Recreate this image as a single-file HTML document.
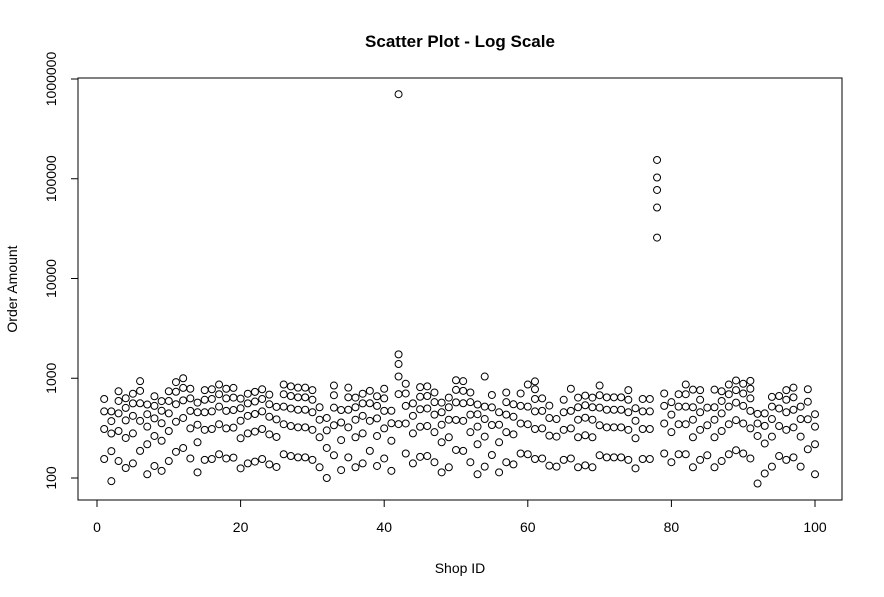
<!DOCTYPE html>
<html><head><meta charset="utf-8"><style>
html,body{margin:0;padding:0;background:#fff;}
svg{display:block;font-family:"Liberation Sans",Arial,sans-serif;}
</style></head><body>
<svg id="chart" width="884" height="597" viewBox="0 0 884 597" xmlns="http://www.w3.org/2000/svg">
<rect width="884" height="597" fill="#fff"/>
<text x="460" y="47" text-anchor="middle" font-size="17" font-weight="bold">Scatter Plot - Log Scale</text>
<text x="460" y="573" text-anchor="middle" font-size="14">Shop ID</text>
<text transform="translate(17,289) rotate(-90)" text-anchor="middle" font-size="14">Order Amount</text>
<rect x="78" y="78" width="764" height="422" fill="none" stroke="#000" stroke-width="1"/>
<g id="axes"></g>
<g id="points" fill="none" stroke="#000" stroke-width="1"></g>
</svg>
<script>
const xTicks = [0, 20, 40, 60, 80, 100];
const yTicks = [100, 1000, 10000, 100000, 1000000];
const yTickLabels = ["100", "1000", "10000", "100000", "1000000"];
// unit price per shop (shop 1..100)
const shopPrice = [155,93,148,126,140,187,109,132,118,148,183,200,157,114,152,155,173,157,160,125,
140,146,155,137,129,173,166,161,161,152,128,100,169,120,161,128,140,187,132,157,
118,347,176,140,163,166,144,114,128,191,187,144,109,130,170,114,144,137,176,173,
155,157,133,130,152,157,128,134,128,169,161,161,161,152,125,155,155,25725,176,144,
173,173,128,152,169,128,148,173,190,176,157,88,111,130,166,152,161,130,194,109];
// order quantities per shop
const shopQty = [[1,2,3,4],[1,2,3,4,5],[1,2,3,4,5],[1,2,3,4,5],[1,2,3,4,5],[1,2,3,4,5],[1,2,3,4,5],[1,2,3,4,5],[1,2,3,4,5],[1,2,3,4,5],
[1,2,3,4,5],[1,2,3,4,5],[1,2,3,4,5],[1,2,3,4,5],[1,2,3,4,5],[1,2,3,4,5],[1,2,3,4,5],[1,2,3,4,5],[1,2,3,4,5],[1,2,3,4,5],
[1,2,3,4,5],[1,2,3,4,5],[1,2,3,4,5],[1,2,3,4,5],[1,2,3,4],[1,2,3,4,5],[1,2,3,4,5],[1,2,3,4,5],[1,2,3,4,5],[1,2,3,4,5],
[1,2,3,4],[1,2,3,4],[1,2,3,4,5],[1,2,3,4],[1,2,3,4,5],[1,2,3,4,5],[1,2,3,4,5],[1,2,3,4],[1,2,3,4,5],[1,2,3,4,5],
[1,2,3,4],[1,2,3,4,5,2029],[1,2,3,4,5],[1,2,3,4],[1,2,3,4,5],[1,2,3,4,5],[1,2,3,4,5],[1,2,3,4,5],[1,2,3,4,5],[1,2,3,4,5],
[1,2,3,4,5],[1,2,3,4,5],[1,2,3,4,5],[1,2,3,4,8],[1,2,3,4],[1,2,3,4],[1,2,3,4,5],[1,2,3,4],[1,2,3,4],[1,2,3,5],
[1,2,3,4,5,6],[1,2,3,4],[1,2,3,4],[1,2,3],[1,2,3,4],[1,2,3,5],[1,2,3,4,5],[1,2,3,4,5],[1,2,3,4,5],[1,2,3,4,5],
[1,2,3,4],[1,2,3,4],[1,2,3,4],[1,2,3,4,5],[1,2,3,4],[1,2,3,4],[1,2,3,4],[1,2,3,4,6],[1,2,3,4],[1,2,3,4],
[1,2,3,4],[1,2,3,4,5],[1,2,3,4,6],[1,2,3,4,5],[1,2,3],[1,2,3,4,6],[1,2,3,4,5],[1,2,3,4,5],[1,2,3,4,5],[1,2,3,4,5],
[1,2,3,4,5,6],[1,3,4,5],[1,2,3,4],[1,2,3,4,5],[1,2,3,4],[1,2,3,4,5],[1,2,3,4,5],[1,2,3,4],[1,2,3,4],[1,2,3,4]];

const NS = "http://www.w3.org/2000/svg";
function xScale(v){ return 97 + v * 7.18; }
function yScale(v){ return 478 - (Math.log10(v) - 2) * 99.75; }

const axes = document.getElementById('axes');
const pts = document.getElementById('points');
function mk(tag, attrs, parent){
  const e = document.createElementNS(NS, tag);
  for (const k in attrs) e.setAttribute(k, attrs[k]);
  parent.appendChild(e);
  return e;
}
xTicks.forEach(t => {
  const x = xScale(t);
  const l = mk('line', {x1:x, x2:x, y1:500, y2:507, stroke:'#000'}, axes);
  
  
  const tx = mk('text', {x:x, y:532, 'text-anchor':'middle', 'font-size':14}, axes);
  tx.textContent = t;
  
  
});
mk('line', {x1:xScale(0), x2:xScale(100), y1:500, y2:500, stroke:'#000'}, axes);
yTicks.forEach((t, i) => {
  const y = yScale(t);
  const l = mk('line', {x1:71, x2:78, y1:y, y2:y, stroke:'#000'}, axes);
  
  
  const tx = mk('text', {transform:'translate(56,' + y + ') rotate(-90)', 'text-anchor':'middle', 'font-size':14}, axes);
  tx.textContent = yTickLabels[i];
  
  
});
shopPrice.forEach((p, i) => {
  shopQty[i].forEach(q => {
    const c = mk('circle', {cx: xScale(i + 1), cy: yScale(p * q), r: 3.5}, pts);
    
    
  });
});
</script>
</body></html>
